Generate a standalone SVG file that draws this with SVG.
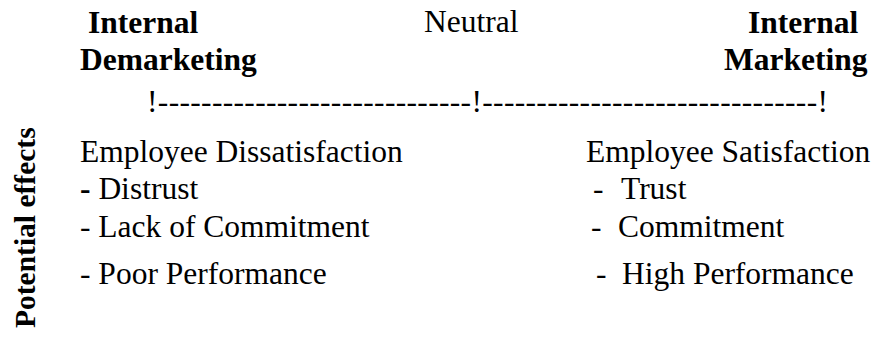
<svg xmlns="http://www.w3.org/2000/svg" width="872" height="346" viewBox="0 0 872 346">
<style>
text{font-family:"Liberation Serif","Times New Roman",serif;font-size:31.5px;fill:#000}
.b{font-weight:bold}
</style>
<rect width="872" height="346" fill="#fff"/>
<g id="left-header">
<text class="b" x="88" y="33">Internal</text>
<text class="b" x="80" y="70">Demarketing</text>
</g>
<g id="neutral"><text x="424" y="32">Neutral</text></g>
<g id="right-header">
<text class="b" x="748" y="33">Internal</text>
<text class="b" x="724" y="70">Marketing</text>
</g>
<g id="scale"><text x="147" y="112" textLength="681" lengthAdjust="spacing">!-----------------------------!-------------------------------!</text></g>
<g id="axis-label"><text class="b" style="font-size:29.5px" transform="translate(35,328) rotate(-90)">Potential effects</text></g>
<g id="left-effects">
<text x="80" y="162">Employee Dissatisfaction</text>
<text x="80" y="199"><tspan class="b">-</tspan> Distrust</text>
<text x="80" y="237">- Lack of Commitment</text>
<text x="80" y="284">- Poor Performance</text>
</g>
<g id="right-effects">
<text x="586" y="162">Employee Satisfaction</text>
<text x="593" y="199">-</text><text x="621" y="199">Trust</text>
<text x="591" y="237">-</text><text x="618" y="237">Commitment</text>
<text x="596" y="284">-</text><text x="622" y="284">High Performance</text>
</g>
<g id="connectors"></g>
</svg>
